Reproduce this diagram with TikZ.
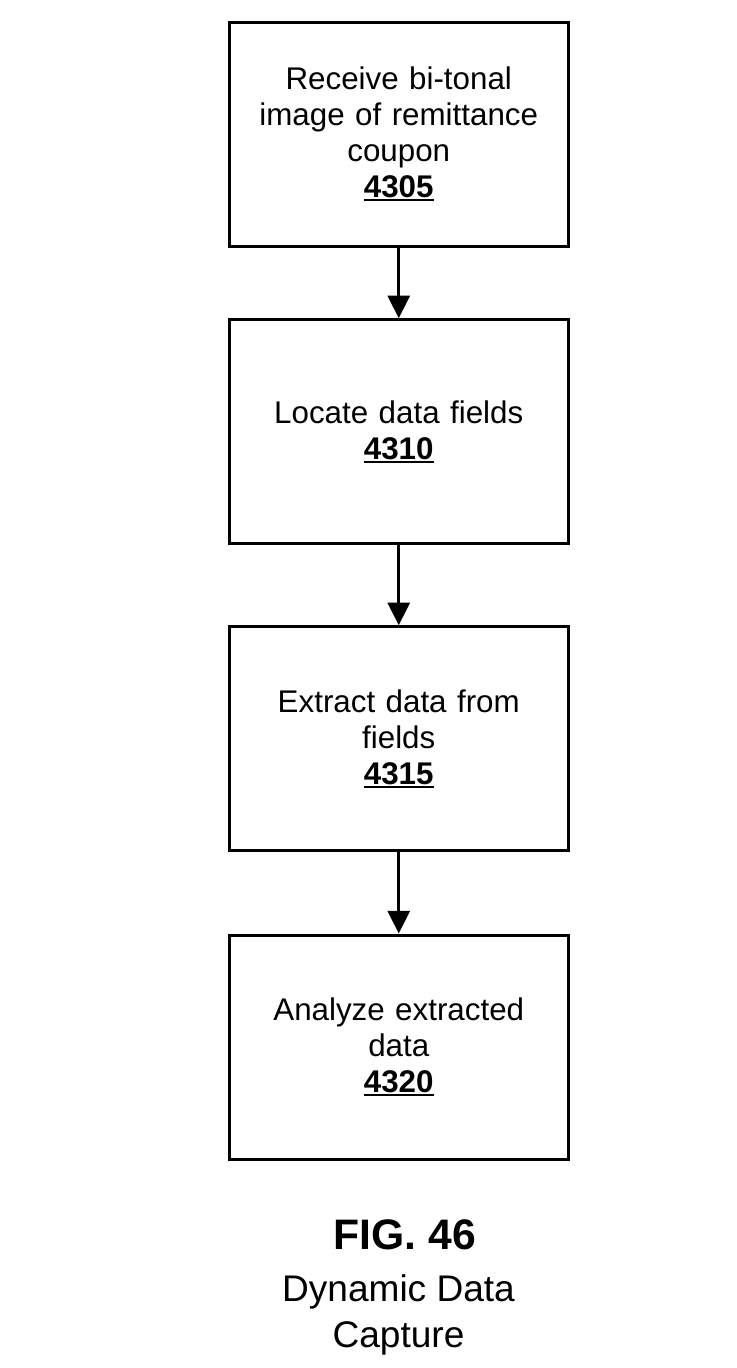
\documentclass[tikz,border=0pt]{standalone}
\usepackage{fontspec}
\setmainfont{Liberation Sans}
\usetikzlibrary{arrows.meta}
\newcommand\refnum[1]{\textbf{\setbox0\hbox{#1}\rlap{\rule[-2.6pt]{\wd0}{1.5pt}}\box0}}
\tikzset{
  stepbox/.style={draw, line width=2.25pt, minimum width=253.9pt, minimum height=168pt,
    text width=240pt, align=center, inner sep=0pt,
    font=\fontsize{23.5pt}{27pt}\selectfont},
  flowarrow/.style={line width=2.25pt, -{Triangle[width=16.5pt,length=17pt]}},
}
\begin{document}
\begin{tikzpicture}[x=0.75pt,y=-0.75pt]
\useasboundingbox (0,0) rectangle (737,1368);
\node[stepbox] (b1) at (398.75,134.25) {Receive bi-tonal\\image of remittance\\coupon\\\refnum{4305}};
\node[stepbox] (b2) at (398.75,431.75) {Locate data fields\\\refnum{4310}};
\node[stepbox] (b3) at (398.75,738.75) {Extract data from\\fields\\\refnum{4315}};
\node[stepbox] (b4) at (398.75,1047) {Analyze extracted\\data\\\refnum{4320}};
\draw[flowarrow] (b1) -- (b2);
\draw[flowarrow] (b2) -- (b3);
\draw[flowarrow] (b3) -- (b4);
\node[anchor=base, inner sep=0pt, font=\fontsize{32pt}{36pt}\selectfont\bfseries] (fig) at (405,1249) {FIG. 46};
\node[anchor=base, inner sep=0pt, font=\fontsize{27.8pt}{30pt}\selectfont] (cap1) at (398.5,1301) {Dynamic Data};
\node[anchor=base, inner sep=0pt, font=\fontsize{27.8pt}{30pt}\selectfont] (cap2) at (398.5,1347) {Capture};
\end{tikzpicture}
\end{document}
